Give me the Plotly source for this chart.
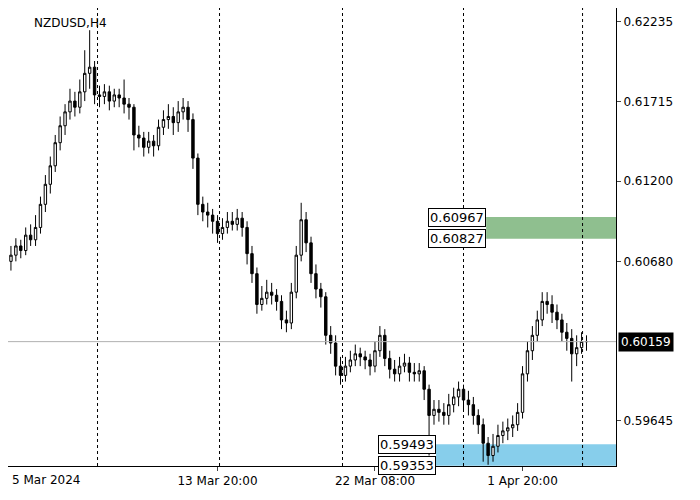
import plotly.graph_objects as go

closes = [0.6072,0.6078,0.6075,0.6085,0.6082,0.6090,0.6105,0.6118,0.6130,0.6145,0.6156,0.6165,
          0.6172,0.6168,0.6178,0.6190,0.6194,0.6176,0.6175,0.6178,0.6172,0.6176,0.6174,0.6170,
          0.6168,0.6150,0.6148,0.6142,0.6146,0.6143,0.6155,0.6160,0.6162,0.6158,0.6165,0.6168,
          0.6160,0.6135,0.6105,0.6100,0.6098,0.6094,0.6086,0.6090,0.6094,0.6092,0.6096,0.6090,
          0.6073,0.6060,0.6040,0.6044,0.6048,0.6046,0.6042,0.6030,0.6028,0.6048,0.6072,0.6095,
          0.6080,0.6060,0.6050,0.6045,0.6020,0.6015,0.6000,0.5994,0.6000,0.6004,0.6008,0.6006,
          0.6004,0.6000,0.6010,0.6020,0.6005,0.5998,0.5995,0.6000,0.6002,0.5996,0.5995,0.5997,
          0.5985,0.5968,0.5972,0.5970,0.5968,0.5975,0.5980,0.5985,0.5978,0.5975,0.5968,0.5962,
          0.5950,0.5942,0.5948,0.5955,0.5958,0.5960,0.5962,0.5970,0.5995,0.6010,0.6020,0.6030,
          0.6042,0.6040,0.6035,0.6030,0.6022,0.6018,0.6008,0.6012,0.6016,0.60159]
highs = [0.6078,0.6083,0.6082,0.6090,0.6092,0.6098,0.6110,0.6124,0.6136,0.6150,0.6162,0.6170,
         0.6180,0.6178,0.6186,0.6205,0.6218,0.6198,0.6182,0.6183,0.6182,0.6180,0.6180,0.6186,
         0.6174,0.6170,0.6156,0.6152,0.6152,0.6150,0.6160,0.6166,0.6170,0.6168,0.6172,0.6174,
         0.6172,0.6164,0.6138,0.6110,0.6106,0.6102,0.6098,0.6096,0.6100,0.6100,0.6102,0.6100,
         0.6094,0.6078,0.6064,0.6052,0.6056,0.6054,0.6050,0.6046,0.6036,0.6054,0.6078,0.6106,
         0.6100,0.6084,0.6066,0.6054,0.6048,0.6026,0.6020,0.6006,0.6006,0.6010,0.6014,0.6012,
         0.6010,0.6008,0.6016,0.6026,0.6024,0.6010,0.6004,0.6006,0.6008,0.6006,0.6002,0.6002,
         0.6000,0.5988,0.5978,0.5978,0.5976,0.5982,0.5986,0.5990,0.5988,0.5984,0.5980,0.5972,
         0.5966,0.5954,0.5956,0.5962,0.5964,0.5966,0.5968,0.5976,0.6000,0.6016,0.6026,0.6036,
         0.6048,0.6048,0.6046,0.6040,0.6034,0.6028,0.6024,0.6020,0.6022,0.6020]
lows = [0.6062,0.6068,0.6070,0.6072,0.6078,0.6078,0.6086,0.6100,0.6112,0.6126,0.6140,0.6150,
        0.6160,0.6162,0.6164,0.6172,0.6180,0.6170,0.6168,0.6170,0.6166,0.6168,0.6168,0.6164,
        0.6160,0.6140,0.6142,0.6136,0.6138,0.6136,0.6140,0.6150,0.6154,0.6150,0.6152,0.6160,
        0.6152,0.6128,0.6098,0.6094,0.6090,0.6086,0.6080,0.6082,0.6086,0.6088,0.6088,0.6084,
        0.6066,0.6054,0.6034,0.6036,0.6040,0.6040,0.6036,0.6024,0.6022,0.6024,0.6044,0.6068,
        0.6074,0.6054,0.6044,0.6038,0.6014,0.6008,0.5994,0.5988,0.5990,0.5996,0.6000,0.6000,
        0.5998,0.5994,0.5996,0.6006,0.6000,0.5992,0.5990,0.5990,0.5996,0.5990,0.5990,0.5990,
        0.5978,0.5942,0.5962,0.5964,0.5962,0.5962,0.5970,0.5974,0.5972,0.5968,0.5962,0.5956,
        0.5938,0.5936,0.5938,0.5944,0.5950,0.5952,0.5954,0.5958,0.5966,0.5990,0.6004,0.6016,
        0.6026,0.6034,0.6028,0.6024,0.6016,0.6010,0.5990,0.6000,0.6008,0.6010]
opens = [0.6068] + closes[:-1]
idx = list(range(len(closes)))

price_ticks = [0.62235, 0.61715, 0.61200, 0.60680, 0.59645]
time_pos = [42, 74, 104]
time_labels = ["13 Mar 20:00", "22 Mar 08:00", "1 Apr 20:00"]
first_label = "5 Mar 2024"
day_lines = [17.6, 42.4, 67.4, 92, 116.2]
current = 0.60159
green_zone = [0.60827, 0.60967]
blue_zone = [0.59353, 0.59493]

fig = go.Figure(go.Candlestick(
    x=idx, open=opens, high=highs, low=lows, close=closes,
    increasing=dict(fillcolor="white", line=dict(color="black", width=1)),
    decreasing=dict(fillcolor="black", line=dict(color="black", width=1)),
    whiskerwidth=0, showlegend=False))

for d in day_lines:
    fig.add_shape(type="line", x0=d, x1=d, y0=0, y1=1, yref="paper",
                  line=dict(color="black", width=1, dash="dot"))
fig.add_hline(y=current, line=dict(color="#b0b0b0", width=1))
fig.add_shape(type="rect", x0=96.6, x1=123, y0=green_zone[0], y1=green_zone[1],
              fillcolor="#8fbf8f", line_width=0, layer="below")
fig.add_shape(type="rect", x0=86.4, x1=123, y0=blue_zone[0], y1=blue_zone[1],
              fillcolor="#87ceeb", line_width=0, layer="below")

for val, xa in [(green_zone[1], 96.6), (green_zone[0], 96.6), (blue_zone[1], 86.4), (blue_zone[0], 86.4)]:
    fig.add_annotation(x=xa, y=val, text=f"{val:.5f}", showarrow=False, xanchor="right",
                       bgcolor="white", bordercolor="black", borderwidth=1, borderpad=1,
                       font=dict(size=13, color="black"))
fig.add_annotation(x=1, xref="paper", y=current, text=f"{current:.5f}", showarrow=False,
                   xanchor="left", xshift=2, bgcolor="black", font=dict(size=12, color="white"),
                   borderpad=2)
fig.add_annotation(x=0, xref="paper", y=0, yref="paper", text=first_label, showarrow=False,
                   xanchor="left", yanchor="top", xshift=2, yshift=-5, font=dict(size=12))
fig.add_annotation(x=0.04, xref="paper", y=1, yref="paper", text="NZDUSD,H4", showarrow=False,
                   xanchor="left", yanchor="top", yshift=-6, font=dict(size=12, color="black"))

fig.update_layout(
    width=700, height=500, margin=dict(l=0, r=92, t=0, b=42, autoexpand=False),
    paper_bgcolor="white", plot_bgcolor="white",
    font=dict(family="DejaVu Sans", size=12, color="black"),
    xaxis=dict(range=[-0.6, 123], rangeslider=dict(visible=False), showgrid=False,
               tickvals=time_pos, ticktext=time_labels, ticks="outside", ticklen=4,
               showline=True, linecolor="black", mirror=True, zeroline=False),
    yaxis=dict(range=[0.59352, 0.62324], side="right", showgrid=False,
               tickvals=price_ticks, ticktext=[f"{v:.5f}" for v in price_ticks],
               ticks="outside", ticklen=4, showline=True, linecolor="black", mirror=True,
               zeroline=False),
)
fig.write_html("out.html")
